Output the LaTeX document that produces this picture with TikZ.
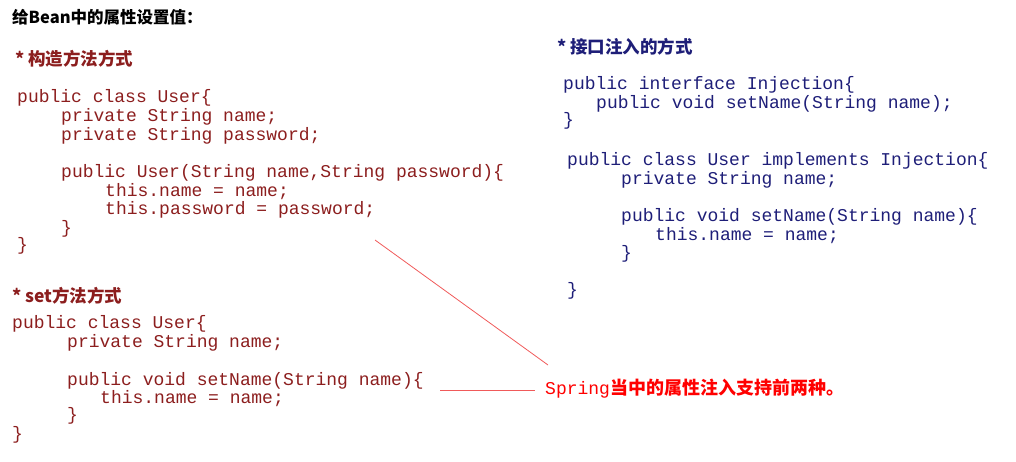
\documentclass[tikz,border=0pt]{standalone}
\usepackage{fontspec}
\setmonofont{Liberation Mono}
\newfontfamily\cjk{Noto Sans CJK SC}
\usepackage{tikz}
\usetikzlibrary{positioning}
\definecolor{codered}{RGB}{140,30,30}
\definecolor{codeblue}{RGB}{30,30,120}
\definecolor{linered}{RGB}{240,90,90}
\tikzset{
  code/.style={anchor=west, inner sep=0pt, font=\ttfamily\fontsize{18}{19}\selectfont},
  head/.style={anchor=west, inner sep=0pt, font=\cjk\bfseries\fontsize{17.5}{19}\selectfont},
  link/.style={linered, line width=0.8pt}
}
\begin{document}
\begin{tikzpicture}[x=1pt, y=-1pt]
	\useasboundingbox (0,0) rectangle (1016,462);
	\node[head, black, font=\cjk\bfseries\fontsize{16.5}{19}\selectfont] (title) at (12,17) {给Bean中的属性设置值：};
	% constructor injection
	\node[head, codered] (hcons) at (15,59) {* 构造方法方式};
	\node[code, codered] (c1) at (17,98) {public class User\{};
	\node[code, codered] (c2) at (61,117) {private String name;};
	\node[code, codered] (c3) at (61,136) {private String password;};
	\node[code, codered] (c4) at (61,173) {public User(String name,String password)\{};
	\node[code, codered] (c5) at (105,192) {this.name = name;};
	\node[code, codered] (c6) at (105,210) {this.password = password;};
	\node[code, codered] (c7) at (61,229) {\}};
	\node[code, codered] (c8) at (17,246) {\}};
	% setter injection
	\node[head, codered] (hset) at (12,296) {* set方法方式};
	\node[code, codered] (s1) at (12,324) {public class User\{};
	\node[code, codered] (s2) at (67,343) {private String name;};
	\node[code, codered] (s3) at (67,381) {public void setName(String name)\{};
	\node[code, codered] (s4) at (100,399) {this.name = name;};
	\node[code, codered] (s5) at (67,416) {\}};
	\node[code, codered] (s6) at (12,435) {\}};
	% interface injection
	\node[head, codeblue] (hint) at (557,47) {* 接口注入的方式};
	\node[code, codeblue] (i1) at (563,85) {public interface Injection\{};
	\node[code, codeblue] (i2) at (596,104) {public void setName(String name);};
	\node[code, codeblue] (i3) at (563,121) {\}};
	\node[code, codeblue] (i4) at (567,161) {public class User implements Injection\{};
	\node[code, codeblue] (i5) at (621,180) {private String name;};
	\node[code, codeblue] (i6) at (621,217) {public void setName(String name)\{};
	\node[code, codeblue] (i7) at (655,236) {this.name = name;};
	\node[code, codeblue] (i8) at (621,254) {\}};
	\node[code, codeblue] (i9) at (567,291) {\}};
	% note
	\node[code, red] (note) at (545,389) {Spring{\cjk\bfseries 当中的属性注入支持前两种。}};
	\coordinate (consend) at (375,240);
	\coordinate (setend) at (440,390);
	\coordinate (notetop) at (548,365);
	\coordinate (noteleft) at (535,390);
	\draw[link] (consend) -- (notetop);
	\draw[link] (setend) -- (noteleft);
\end{tikzpicture}
\end{document}
